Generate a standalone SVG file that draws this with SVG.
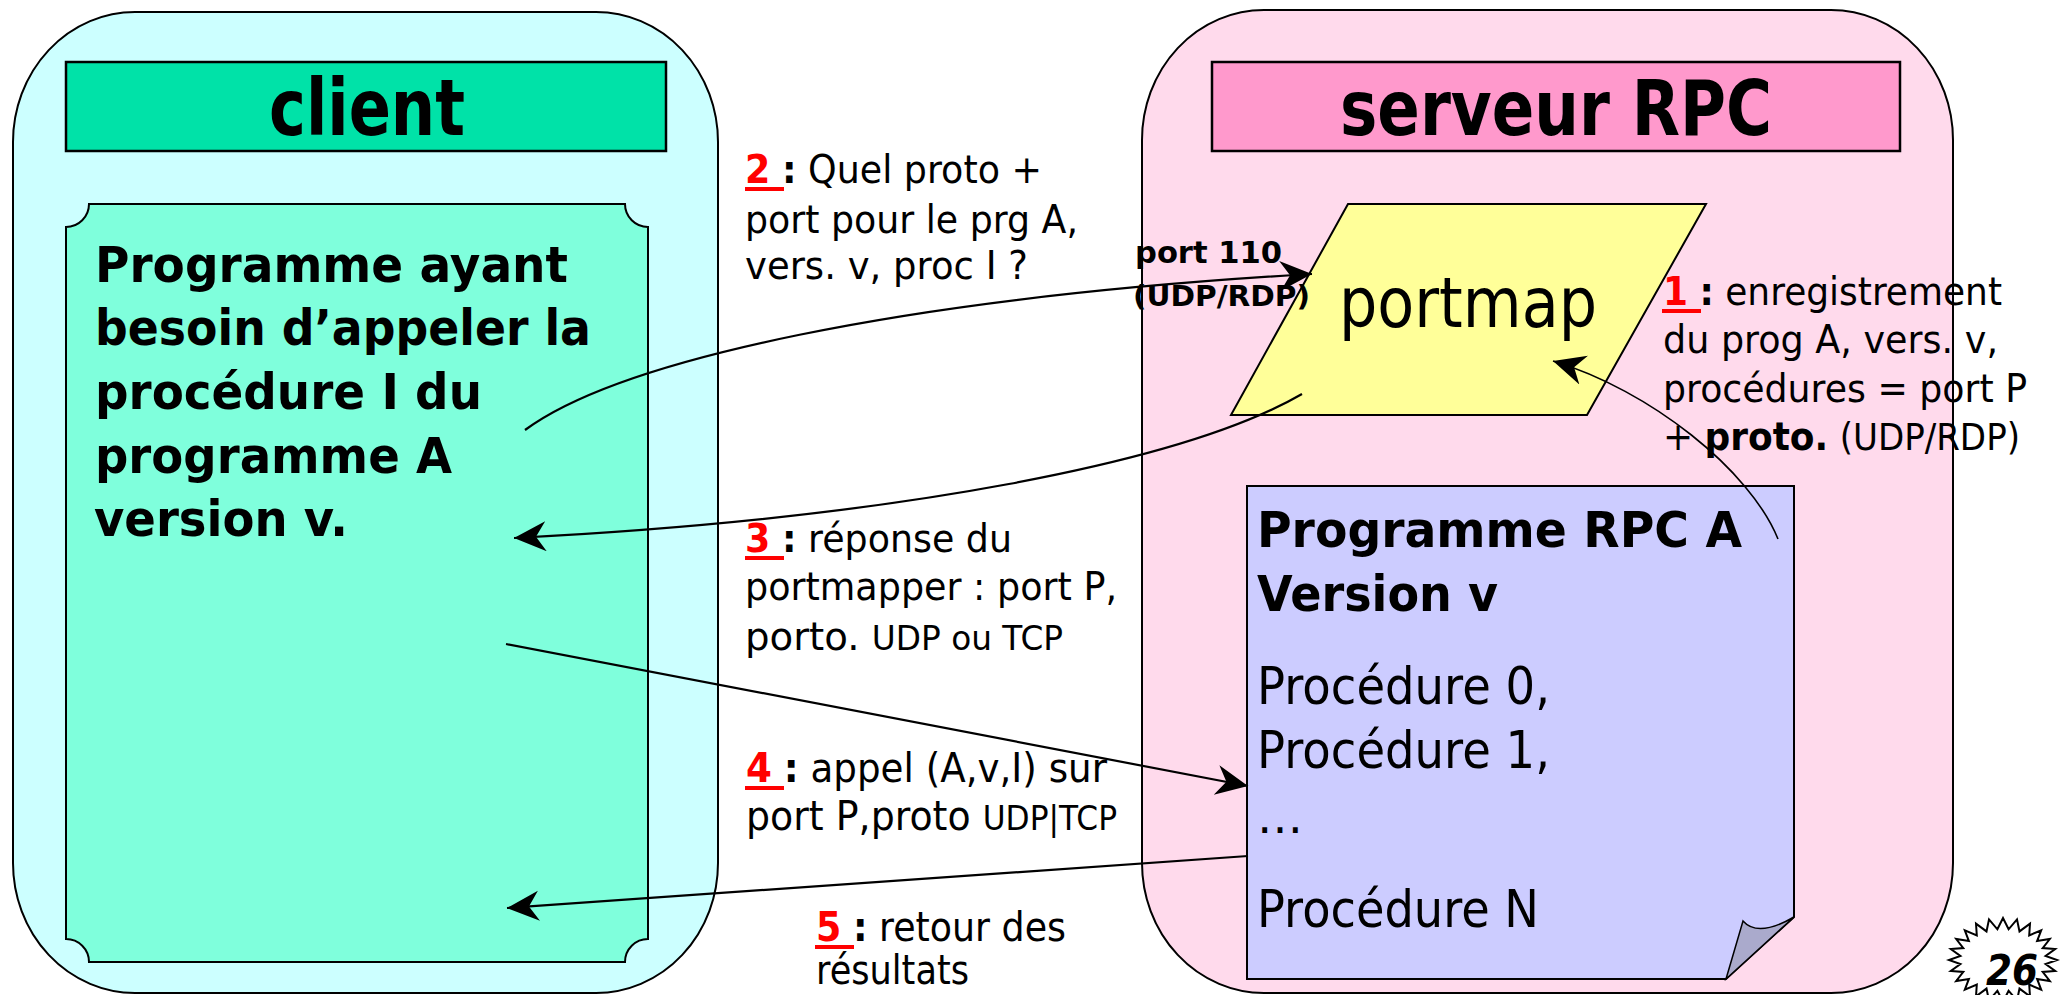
<svg xmlns="http://www.w3.org/2000/svg" width="2067" height="995" viewBox="0 0 2067 995">
<defs>
<marker id="arr" markerUnits="userSpaceOnUse" markerWidth="34" markerHeight="32" viewBox="0 0 34 32" refX="32" refY="15" orient="auto">
<path d="M0,0 L32,15 L0,30 L10,15 Z" fill="#000"/>
</marker>
<style>
.t{font-family:"DejaVu Sans","Verdana",sans-serif;fill:#000}
.b{font-weight:bold}
.num{fill:#ff0000;font-weight:bold}
.ul{fill:#ff0000}
.edge{fill:none;stroke:#000;stroke-width:2.2}
.thin{fill:none;stroke:#000;stroke-width:1.6}
</style>
</defs>
<rect width="2067" height="995" fill="#ffffff"/>

<g id="client">
<rect x="13" y="12" width="705" height="981" rx="122" ry="130" fill="#ccffff" stroke="#000" stroke-width="2"/>
<rect x="66" y="62" width="600" height="89" fill="#00e2a8" stroke="#000" stroke-width="2.5"/>
<text class="t b" x="269" y="135" font-size="78" textLength="196" lengthAdjust="spacingAndGlyphs">client</text>
</g>

<g id="client-program">
<path d="M89,204 H625 A23,23 0 0 0 648,227 V939 A23,23 0 0 0 625,962 H89 A23,23 0 0 0 66,939 V227 A23,23 0 0 0 89,204 Z" fill="#7fffdc" stroke="#000" stroke-width="2"/>
<text class="t b" x="95" y="282" font-size="50" textLength="473" lengthAdjust="spacingAndGlyphs">Programme ayant</text>
<text class="t b" x="95" y="345" font-size="50" textLength="496" lengthAdjust="spacingAndGlyphs">besoin d’appeler la</text>
<text class="t b" x="95" y="409" font-size="50" textLength="387" lengthAdjust="spacingAndGlyphs">procédure I du</text>
<text class="t b" x="95" y="473" font-size="50" textLength="357" lengthAdjust="spacingAndGlyphs">programme A</text>
<text class="t b" x="94" y="536" font-size="50" textLength="254" lengthAdjust="spacingAndGlyphs">version v.</text>
</g>

<g id="server">
<rect x="1142" y="10" width="811" height="983" rx="122" ry="130" fill="#ffdaec" stroke="#000" stroke-width="2"/>
<rect x="1212" y="62" width="688" height="89" fill="#ff99cc" stroke="#000" stroke-width="2.5"/>
<text class="t b" x="1340" y="135" font-size="76" textLength="432" lengthAdjust="spacingAndGlyphs">serveur RPC</text>
</g>

<g id="portmap">
<polygon points="1348,204 1706,204 1587,415 1231,415" fill="#ffff99" stroke="#000" stroke-width="2"/>
<text class="t" x="1339" y="327" font-size="70" textLength="258" lengthAdjust="spacingAndGlyphs">portmap</text>
<text class="t b" x="1135" y="263" font-size="31" textLength="147" lengthAdjust="spacingAndGlyphs">port 110</text>
<text class="t b" x="1133" y="306" font-size="29" textLength="177" lengthAdjust="spacingAndGlyphs">(UDP/RDP)</text>
</g>

<g id="rpc-program">
<path d="M1247,486 H1794 V917 L1726,979 H1247 Z" fill="#ccccff" stroke="#000" stroke-width="2"/>
<path d="M1726,979 L1743,921 Q1758,938 1794,917 Z" fill="#aaaacc" stroke="#000" stroke-width="1.5"/>
<text class="t b" x="1257" y="547" font-size="50" textLength="485" lengthAdjust="spacingAndGlyphs">Programme RPC A</text>
<text class="t b" x="1257" y="611" font-size="50" textLength="241" lengthAdjust="spacingAndGlyphs">Version v</text>
<text class="t" x="1257" y="704" font-size="52" textLength="293" lengthAdjust="spacingAndGlyphs">Procédure 0,</text>
<text class="t" x="1257" y="768" font-size="52" textLength="293" lengthAdjust="spacingAndGlyphs">Procédure 1,</text>
<text class="t" x="1257" y="833" font-size="46">…</text>
<text class="t" x="1257" y="927" font-size="52" textLength="282" lengthAdjust="spacingAndGlyphs">Procédure N</text>
</g>

<g id="label-1">
<rect class="ul" x="1662" y="309" width="39" height="4"/>
<text class="t" x="1663" y="305" font-size="39" textLength="339" lengthAdjust="spacingAndGlyphs"><tspan class="num">1</tspan> <tspan class="b">:</tspan> enregistrement</text>
<text class="t" x="1663" y="353" font-size="39" textLength="335" lengthAdjust="spacingAndGlyphs">du prog A, vers. v,</text>
<text class="t" x="1663" y="402" font-size="39" textLength="364" lengthAdjust="spacingAndGlyphs">procédures = port P</text>
<text class="t" x="1663" y="450" font-size="39" textLength="357" lengthAdjust="spacingAndGlyphs">+ <tspan class="b">proto.</tspan> <tspan font-size="37">(UDP/RDP)</tspan></text>
</g>

<g id="label-2">
<rect class="ul" x="745" y="187" width="39" height="4"/>
<text class="t" x="745" y="183" font-size="39" textLength="297" lengthAdjust="spacingAndGlyphs"><tspan class="num">2</tspan> <tspan class="b">:</tspan> Quel proto +</text>
<text class="t" x="745" y="233" font-size="39" textLength="333" lengthAdjust="spacingAndGlyphs">port pour le prg A,</text>
<text class="t" x="745" y="279" font-size="39" textLength="283" lengthAdjust="spacingAndGlyphs">vers. v, proc I ?</text>
</g>

<g id="label-3">
<rect class="ul" x="745" y="556" width="39" height="4"/>
<text class="t" x="745" y="552" font-size="39" textLength="267" lengthAdjust="spacingAndGlyphs"><tspan class="num">3</tspan> <tspan class="b">:</tspan> réponse du</text>
<text class="t" x="745" y="600" font-size="39" textLength="372" lengthAdjust="spacingAndGlyphs">portmapper : port P,</text>
<text class="t" x="745" y="650" font-size="39" textLength="318" lengthAdjust="spacingAndGlyphs">porto. <tspan font-size="33">UDP ou TCP</tspan></text>
</g>

<g id="label-4">
<rect class="ul" x="745" y="786" width="39" height="4"/>
<text class="t" x="746" y="782" font-size="40" textLength="361" lengthAdjust="spacingAndGlyphs"><tspan class="num">4</tspan> <tspan class="b">:</tspan> appel (A,v,I) sur</text>
<text class="t" x="746" y="830" font-size="40" textLength="371" lengthAdjust="spacingAndGlyphs">port P,proto <tspan font-size="33">UDP|TCP</tspan></text>
</g>

<g id="label-5">
<rect class="ul" x="815" y="945" width="39" height="4"/>
<text class="t" x="816" y="941" font-size="40" textLength="250" lengthAdjust="spacingAndGlyphs"><tspan class="num">5</tspan> <tspan class="b">:</tspan> retour des</text>
<text class="t" x="816" y="984" font-size="40" textLength="153" lengthAdjust="spacingAndGlyphs">résultats</text>
</g>

<g id="connectors">
<path class="edge" d="M525,430 C620,360 900,298 1312,274" marker-end="url(#arr)"/>
<path class="edge" d="M1302,394 C1185,462 900,518 514,538" marker-end="url(#arr)"/>
<path class="edge" d="M506,644 L1248,786" marker-end="url(#arr)"/>
<path class="edge" d="M1248,856 L507,908" marker-end="url(#arr)"/>
<path class="thin" d="M1778,539 C1750,470 1650,390 1553,361" marker-end="url(#arr)"/>
</g>

<g id="badge">
<polygon points="2057,960 2045.6,964 2055.2,970.9 2042.7,971.9 2049.8,981 2037.1,978.9 2041.2,989.7 2029.2,984.6 2030,996.4 2019.5,988.6 2017,1000.6 2008.6,990.7 2003,1002 1997.4,990.7 1989,1000.6 1986.5,988.6 1976,996.4 1976.8,984.6 1964.8,989.7 1968.9,978.9 1956.2,981 1963.3,971.9 1950.8,970.9 1960.4,964 1949,960 1960.4,956 1950.8,949.1 1963.3,948.1 1956.2,939 1968.9,941.1 1964.8,930.3 1976.8,935.4 1976,923.6 1986.5,931.4 1989,919.4 1997.4,929.3 2003,918 2008.6,929.3 2017,919.4 2019.5,931.4 2030,923.6 2029.2,935.4 2041.2,930.3 2037.1,941.1 2049.8,939 2042.7,948.1 2055.2,949.1 2045.6,956" fill="#ffffff" stroke="#000" stroke-width="2"/>
<text class="t b" x="1986" y="985" font-size="42" font-style="italic" textLength="52" lengthAdjust="spacingAndGlyphs">26</text>
</g>
</svg>
